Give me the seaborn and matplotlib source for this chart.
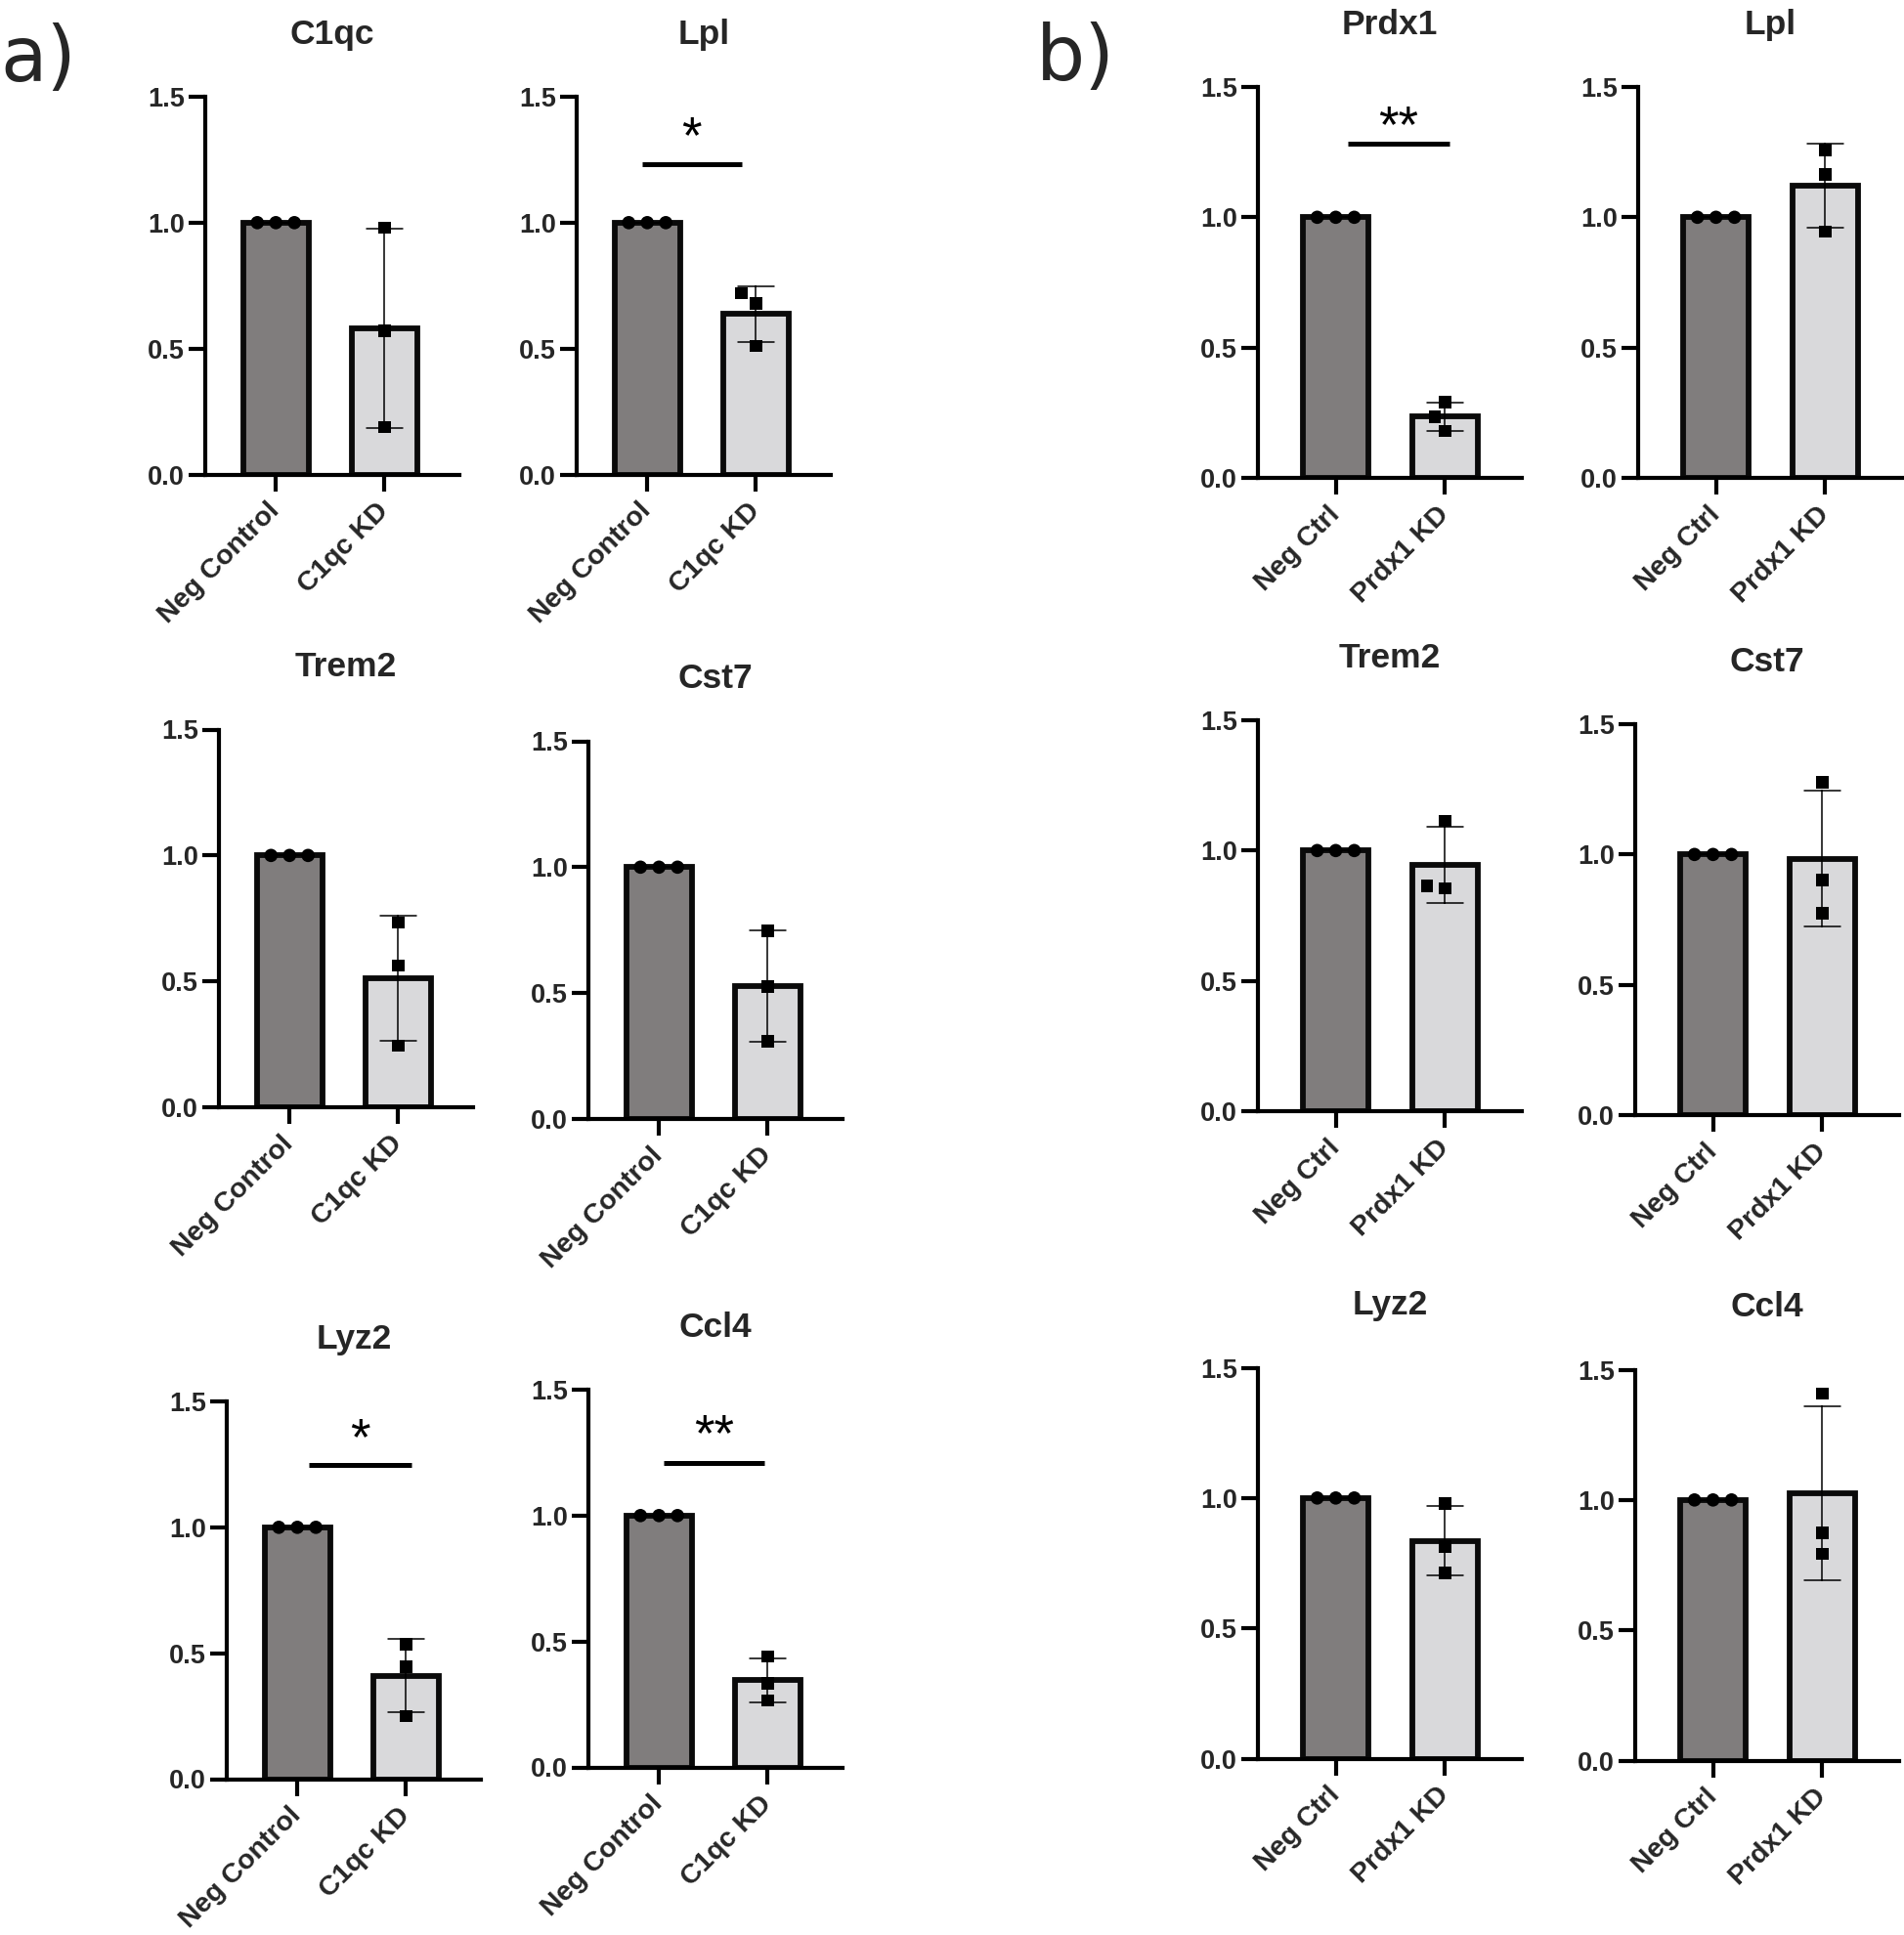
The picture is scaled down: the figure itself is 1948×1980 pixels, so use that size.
import numpy as np
import pandas as pd
import matplotlib
matplotlib.use("Agg")
import matplotlib.pyplot as plt
import seaborn as sns

sns.set_style("ticks")
plt.rcParams["font.family"] = ["Liberation Sans", "DejaVu Sans"]

# ---------------- data ----------------
ctrl_a_label = "Neg Control"
kd_a_label = "C1qc KD"
ctrl_b_label = "Neg Ctrl"
kd_b_label = "Prdx1 KD"

genes_a = ["C1qc", "Lpl", "Trem2", "Cst7", "Lyz2", "Ccl4"]
genes_b = ["Prdx1", "Lpl", "Trem2", "Cst7", "Lyz2", "Ccl4"]

ctrl_values = [1.0, 1.0, 1.0]

a_C1qc_kd = [0.98, 0.571, 0.188]
a_Lpl_kd = [0.72, 0.679, 0.511]
a_Trem2_kd = [0.733, 0.563, 0.244]
a_Cst7_kd = [0.748, 0.526, 0.308]
a_Lyz2_kd = [0.536, 0.446, 0.25]
a_Ccl4_kd = [0.44, 0.334, 0.265]

b_Prdx1_kd = [0.29, 0.235, 0.18]
b_Lpl_kd = [1.259, 1.164, 0.945]
b_Trem2_kd = [1.113, 0.865, 0.855]
b_Cst7_kd = [1.276, 0.902, 0.775]
b_Lyz2_kd = [0.978, 0.814, 0.713]
b_Ccl4_kd = [1.409, 0.874, 0.794]

kd_a = [a_C1qc_kd, a_Lpl_kd, a_Trem2_kd, a_Cst7_kd, a_Lyz2_kd, a_Ccl4_kd]
kd_b = [b_Prdx1_kd, b_Lpl_kd, b_Trem2_kd, b_Cst7_kd, b_Lyz2_kd, b_Ccl4_kd]

# significance annotations
sig_panels = ["a", "a", "a", "b"]
sig_genes = ["Lpl", "Lyz2", "Ccl4", "Prdx1"]
sig_labels = ["*", "*", "**", "**"]
sig_line_y = [1.234, 1.248, 1.207, 1.283]
sig_x0 = [-0.05, 0.11, 0.04, 0.11]
sig_x1 = [0.87, 1.05, 0.97, 1.04]
sig_text_x = [0.41, 0.58, 0.505, 0.575]
sig_text_y = [1.278, 1.29, 1.26, 1.29]

yticks = [0.0, 0.5, 1.0, 1.5]

# ---------------- layout (pixels) ----------------
W, H = 1949, 1980
DPI = 100
a_w, a_h = 260, 386.5
b_w, b_h = 270, 400
a_pos = [(210, 99), (590, 99), (224, 746.5), (602, 758.5), (232, 1434), (602, 1422)]
b_pos = [(1287, 89), (1676, 89), (1287, 737), (1673, 741), (1287, 1399.5), (1673, 1401.5)]

NC_COLOR = "#817d7c"
KD_COLOR = "#d9d9db"
EDGE = "#0a0a0a"

fig = plt.figure(figsize=(W / DPI, H / DPI), dpi=DPI)


def make_axes(left, top, w, h):
    return fig.add_axes([left / W, 1 - (top + h) / H, w / W, h / H])


def draw_panel(ax, gene, ctrl_label, kd_label, kd_vals, xlim, panel):
    order = [ctrl_label, kd_label]
    df = pd.DataFrame({
        "group": [ctrl_label] * len(ctrl_values) + [kd_label] * len(kd_vals),
        "value": ctrl_values + kd_vals,
    })
    sns.barplot(data=df, x="group", y="value", order=order, hue="group",
                hue_order=order, palette=[NC_COLOR, KD_COLOR], legend=False,
                errorbar="sd", capsize=0.33, width=0.6,
                err_kws={"color": "black", "linewidth": 1.1},
                edgecolor=EDGE, linewidth=4.2, ax=ax)
    sns.swarmplot(data=df[df["group"] == ctrl_label], x="group", y="value",
                  order=order, marker="o", color="black", size=9.8,
                  linewidth=3.2, edgecolor="none", ax=ax, zorder=5)
    sns.swarmplot(data=df[df["group"] == kd_label], x="group", y="value",
                  order=order, marker="s", color="black", size=9.0,
                  linewidth=3.8, edgecolor="none", ax=ax, zorder=5)
    ax.set_ylim(0, 1.5)
    ax.set_xlim(*xlim)
    ax.set_yticks(yticks)
    ax.set_yticklabels([f"{v:.1f}" for v in yticks])
    ax.set_xlabel("")
    ax.set_ylabel("")
    for s in ["top", "right"]:
        ax.spines[s].set_visible(False)
    for s in ["left", "bottom"]:
        ax.spines[s].set_linewidth(3.0)
        ax.spines[s].set_color("black")
    ax.tick_params(axis="both", width=3.0, length=12, direction="out", color="black")
    ax.tick_params(axis="y", labelsize=19.5, pad=3)
    ax.tick_params(axis="x", labelsize=20.5, pad=12)
    for lbl in ax.get_yticklabels():
        lbl.set_fontweight("bold")
    for lbl in ax.get_xticklabels():
        lbl.set(rotation=45, ha="right", va="center", rotation_mode="anchor",
                fontweight="bold")
    ax.set_title(gene, fontsize=25.5, fontweight="bold", pad=39)

    for p, g, lab, ly, x0, x1, tx, ty in zip(sig_panels, sig_genes, sig_labels,
                                              sig_line_y, sig_x0, sig_x1,
                                              sig_text_x, sig_text_y):
        if p == panel and g == gene:
            ax.plot([x0, x1], [ly, ly], color="black", lw=3.6,
                    solid_capstyle="butt", clip_on=False)
            ax.text(tx, ty, lab, ha="center", va="baseline", fontsize=38,
                    color="black")


for gene, vals, (l, t) in zip(genes_a, kd_a, a_pos):
    ax = make_axes(l, t, a_w, a_h)
    draw_panel(ax, gene, ctrl_a_label, kd_a_label, vals, (-0.65, 1.69), "a")

for gene, vals, (l, t) in zip(genes_b, kd_b, b_pos):
    ax = make_axes(l, t, b_w, b_h)
    draw_panel(ax, gene, ctrl_b_label, kd_b_label, vals, (-0.712, 1.703), "b")

fig.text(0.5 / W, 1 - 83 / H, "a)", fontsize=56, family="DejaVu Sans",
         va="baseline", ha="left")
fig.text(1060 / W, 1 - 82 / H, "b)", fontsize=57, family="DejaVu Sans",
         va="baseline", ha="left")

fig.savefig("out.png", dpi=DPI)
